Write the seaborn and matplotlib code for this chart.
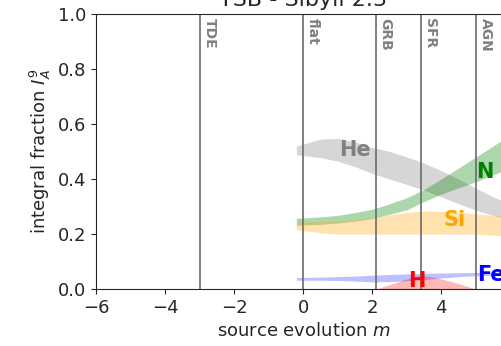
import numpy as np
import matplotlib
matplotlib.use("Agg")
import matplotlib.pyplot as plt
import seaborn as sns

# ---- data -------------------------------------------------------------
m_grid = [-0.2, 0.5, 1.0, 1.5, 2.0, 2.5, 3.0, 3.5, 4.0, 4.5, 5.0, 5.5, 6.0]

he_hi = [0.520, 0.545, 0.548, 0.535, 0.515, 0.500, 0.480, 0.458, 0.430, 0.400, 0.367, 0.335, 0.310]
he_lo = [0.488, 0.478, 0.465, 0.445, 0.420, 0.400, 0.380, 0.360, 0.335, 0.310, 0.287, 0.268, 0.250]

n_hi = [0.257, 0.262, 0.268, 0.278, 0.290, 0.310, 0.332, 0.362, 0.400, 0.440, 0.480, 0.520, 0.560]
n_lo = [0.232, 0.235, 0.240, 0.247, 0.256, 0.272, 0.288, 0.318, 0.345, 0.368, 0.390, 0.415, 0.440]

si_hi = [0.243, 0.245, 0.248, 0.252, 0.258, 0.270, 0.278, 0.284, 0.282, 0.278, 0.273, 0.268, 0.263]
si_lo = [0.215, 0.205, 0.200, 0.200, 0.200, 0.200, 0.200, 0.200, 0.200, 0.200, 0.200, 0.196, 0.193]

fe_hi = [0.042, 0.043, 0.045, 0.047, 0.050, 0.053, 0.055, 0.057, 0.058, 0.059, 0.060, 0.061, 0.062]
fe_lo = [0.032, 0.032, 0.031, 0.029, 0.026, 0.027, 0.030, 0.034, 0.040, 0.045, 0.048, 0.050, 0.051]

h_grid = [2.1, 2.6, 3.0, 3.35, 3.7, 4.2, 4.6, 5.0]
h_hi = [0.000, 0.020, 0.037, 0.050, 0.045, 0.030, 0.016, 0.000]
h_lo = [0.000, 0.000, 0.000, 0.000, 0.000, 0.000, 0.000, 0.000]

source_names = ["TDE", "flat", "GRB", "SFR", "AGN"]
source_m = [-3.0, 0.0, 2.1, 3.4, 5.0]

x_ticks = [-6, -4, -2, 0, 2, 4]
y_ticks = [0.0, 0.2, 0.4, 0.6, 0.8, 1.0]

# ---- style ------------------------------------------------------------
sns.set_style("ticks")
plt.rcParams["font.family"] = ["DejaVu Sans"]
plt.rcParams["mathtext.fontset"] = "dejavusans"

fig = plt.figure(figsize=(5.02, 3.46), dpi=100)
ax = fig.add_axes([96.3 / 502, 57 / 346, 414 / 502, 275 / 346])

bands = [
    (m_grid, he_hi, he_lo, "gray", 0.32),
    (m_grid, n_hi, n_lo, "green", 0.32),
    (m_grid, si_hi, si_lo, "orange", 0.32),
    (m_grid, fe_hi, fe_lo, "blue", 0.25),
    (h_grid, h_hi, h_lo, "red", 0.28),
]
for xs, hi, lo, col, a in bands:
    ax.fill_between(xs, lo, hi, color=col, alpha=a, lw=0)

for name, m in zip(source_names, source_m):
    ax.axvline(m, color="0.42", lw=1.2)
    ax.text(m + 0.08, 0.985, name, rotation=270, ha="left", va="top",
            color="gray", fontweight="bold", fontsize=10)

label_kw = dict(fontweight="bold", fontsize=15, va="center")
ax.text(1.5, 0.505, "He", color="gray", ha="center", **label_kw)
ax.text(5.27, 0.425, "N", color="green", ha="center", **label_kw)
ax.text(4.37, 0.25, "Si", color="orange", ha="center", **label_kw)
ax.text(3.29, 0.03, "H", color="red", ha="center", **label_kw)
ax.text(5.04, 0.05, "Fe", color="blue", ha="left", **label_kw)

ax.set_xlim(-6, 6)
ax.set_ylim(0, 1)
ax.set_xticks(x_ticks)
ax.set_yticks(y_ticks)
ax.set_yticklabels([f"{v:.1f}" for v in y_ticks])
ax.tick_params(labelsize=13)
ax.set_xlabel("source evolution $m$", fontsize=13)
ax.set_ylabel("integral fraction $I^{9}_{A}$", fontsize=13)
ax.set_title("TSB - Sibyll 2.3", fontsize=16)

fig.savefig("out.png", dpi=100)
